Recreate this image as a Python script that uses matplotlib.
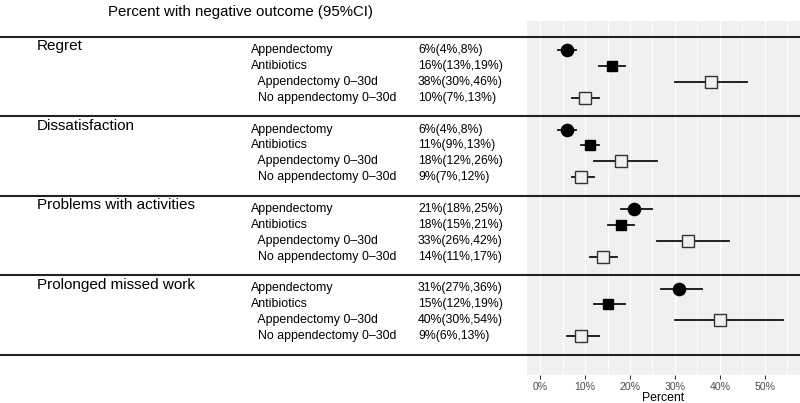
import matplotlib
matplotlib.use("Agg")
import matplotlib.pyplot as plt
import matplotlib.transforms as mtransforms
import numpy as np

plt.rcParams['font.family'] = ['Liberation Sans', 'DejaVu Sans']

groups = ["Regret", "Dissatisfaction", "Problems with activities", "Prolonged missed work"]
row_labels = ["Appendectomy", "Antibiotics", "  Appendectomy 0\u201330d", "  No appendectomy 0\u201330d"]
estimates = [
    [6, 16, 38, 10],
    [6, 11, 18, 9],
    [21, 18, 33, 14],
    [31, 15, 40, 9],
]
lower = [
    [4, 13, 30, 7],
    [4, 9, 12, 7],
    [18, 15, 26, 11],
    [27, 12, 30, 6],
]
upper = [
    [8, 19, 46, 13],
    [8, 13, 26, 12],
    [25, 21, 42, 17],
    [36, 19, 54, 13],
]
x_ticks = [0, 10, 20, 30, 40, 50]
x_tick_labels = ["0%", "10%", "20%", "30%", "40%", "50%"]

W, H = 800, 403
fig = plt.figure(figsize=(W / 100, H / 100), dpi=100)

panel_top_px, panel_bot_px = 21, 375
ax = fig.add_axes([527 / W, 1 - panel_bot_px / H, 1 - 527 / W, (panel_bot_px - panel_top_px) / H])
ax.set_facecolor("#F0F0F0")
for s in ax.spines.values():
    s.set_visible(False)

px_per_unit = 15.9
row0_px = 50
ax.set_ylim((panel_bot_px - row0_px) / px_per_unit, (panel_top_px - row0_px) / px_per_unit)
ax.set_xlim(-2.9, 57.8)

# grid
for v in np.arange(0, 56, 5):
    major = v % 10 == 0
    ax.axvline(v, color="white", lw=1.0 if major else 0.6, zorder=0)

G = 5.0
sep_offset = 0.82
blend = mtransforms.blended_transform_factory(fig.transFigure, ax.transData)

marker_styles = [
    dict(marker="o", ms=8.8, mfc="black", mec="black"),
    dict(marker="s", ms=7.6, mfc="black", mec="black"),
    dict(marker="s", ms=8.2, mfc="#F0F0F0", mec="#333333", mew=1.0),
    dict(marker="s", ms=8.2, mfc="#F0F0F0", mec="#333333", mew=1.0),
]

for g, gname in enumerate(groups):
    y0 = g * G
    ax.plot([0, 1], [y0 - sep_offset] * 2, transform=blend, color="#222222", lw=1.5,
            clip_on=False, zorder=5)
    ax.text(37 / W, y0 - 0.25, gname, transform=blend, fontsize=11, va="center", ha="left",
            clip_on=False)
    for r in range(4):
        y = y0 + r
        ax.text(251 / W, y, row_labels[r], transform=blend, fontsize=8.9, va="center",
                ha="left", clip_on=False)
        lab = f"{estimates[g][r]}%({lower[g][r]}%,{upper[g][r]}%)"
        ax.text(418 / W, y, lab, transform=blend, fontsize=8.8, va="center", ha="left",
                clip_on=False)
        ax.plot([lower[g][r], upper[g][r]], [y, y], color="#111111", lw=1.3, zorder=3)
        ax.plot([estimates[g][r]], [y], ls="none", zorder=4, **marker_styles[r])

# last separator
ax.plot([0, 1], [len(groups) * G - sep_offset] * 2, transform=blend, color="#222222",
        lw=1.5, clip_on=False, zorder=5)

ax.set_yticks([])
ax.set_xticks(x_ticks)
ax.set_xticklabels(x_tick_labels, fontsize=7.6, color="#4D4D4D")
ax.tick_params(axis="x", length=3, width=0.8, color="#333333", pad=2)
ax.set_xlabel("Percent", fontsize=8.8, labelpad=0)

fig.text(240 / W, 1 - 12 / H, "Percent with negative outcome (95%CI)", fontsize=10.8,
         ha="center", va="center")

fig.savefig("out.png", dpi=100)
